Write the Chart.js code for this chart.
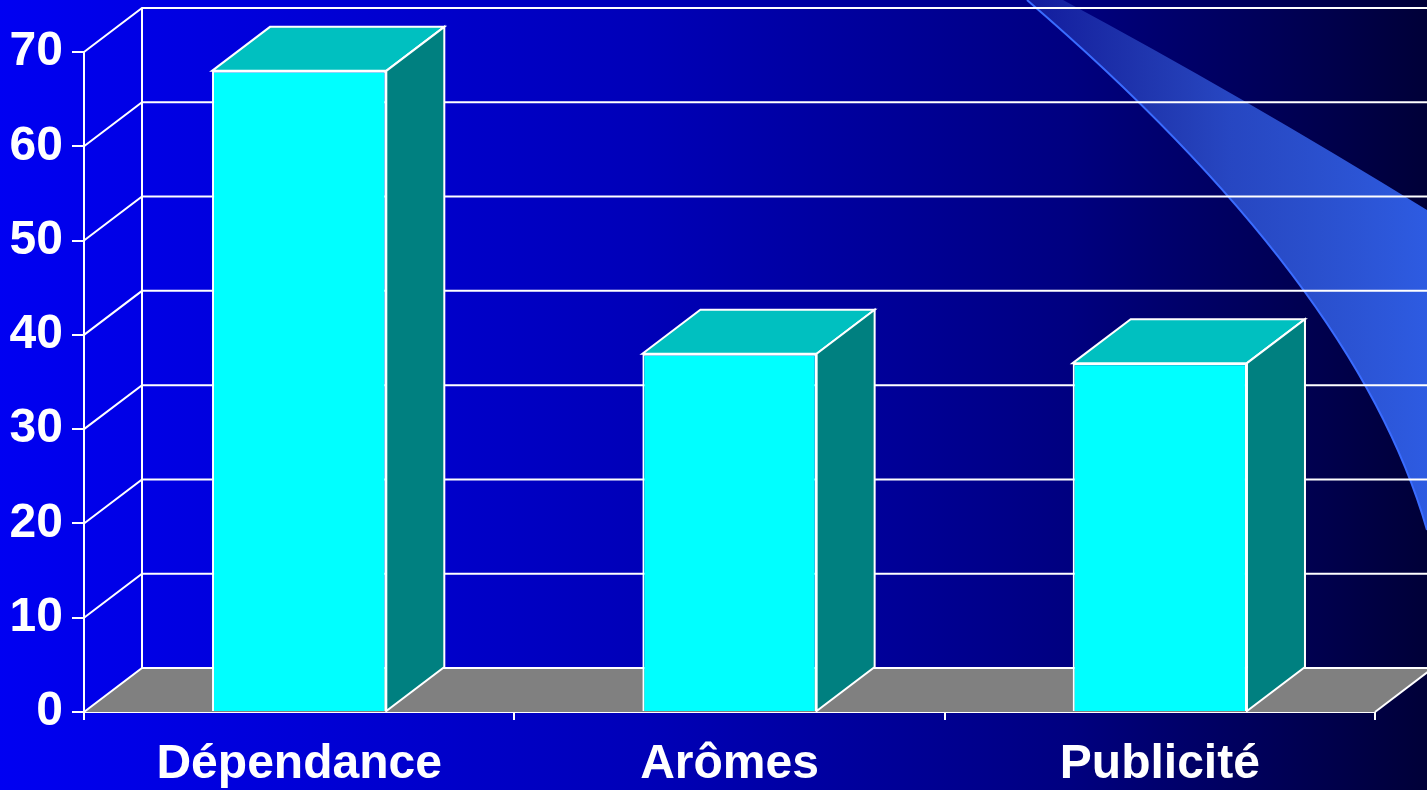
<!DOCTYPE html>
<html lang="fr">
<head>
<meta charset="utf-8">
<title>Graphique</title>
<script src="https://cdn.jsdelivr.net/npm/chart.js@4/dist/chart.umd.min.js"></script>
<style>
  html, body { margin: 0; padding: 0; background: #000080; }
  #wrap { width: 1427px; height: 790px; position: relative; }
</style>
</head>
<body>
<div id="wrap"><canvas id="barChart"></canvas></div>
<script>
// données
const categories = ['Dépendance', 'Arômes', 'Publicité'];
const values = [68, 38, 37];
const yMin = 0;
const yMax = 70;
const yStep = 10;

// couleurs
const frontColor = '#00ffff';
const topColor = '#00c0c0';
const sideColor = '#008080';
const floorColor = '#808080';
const lineColor = '#ffffff';
const labelFont = { family: "'Liberation Sans', Arial, sans-serif", size: 48, weight: 'bold' };

// profondeur de la perspective
const DX = 58;
const DY = 44;

// fond dégradé + la "vague" décorative en haut à droite
const backgroundPlugin = {
    id: 'background',
    beforeDraw(chart) {
        const { ctx, width, height } = chart;
        ctx.save();
        const g = ctx.createLinearGradient(0, 0, width, 0);
        g.addColorStop(0, '#0000f2');
        g.addColorStop(0.45, '#0000b8');
        g.addColorStop(0.75, '#000080');
        g.addColorStop(1, '#000038');
        ctx.fillStyle = g;
        ctx.fillRect(0, 0, width, height);

        // vague
        const sg = ctx.createLinearGradient(1030, 0, width, 0);
        sg.addColorStop(0, 'rgba(70, 110, 230, 0.25)');
        sg.addColorStop(0.5, 'rgba(55, 100, 235, 0.7)');
        sg.addColorStop(1, 'rgba(48, 96, 235, 0.95)');
        ctx.beginPath();
        ctx.moveTo(1027, 0);
        ctx.lineTo(1063, 0);
        ctx.quadraticCurveTo(1240, 95, width, 210);
        ctx.lineTo(width, 530);
        ctx.bezierCurveTo(1367, 320, 1177, 129, 1027, 0);
        ctx.closePath();
        ctx.fillStyle = sg;
        ctx.fill();
        ctx.beginPath();
        ctx.moveTo(1027, 0);
        ctx.bezierCurveTo(1177, 129, 1367, 320, width, 530);
        ctx.strokeStyle = '#3a6cff';
        ctx.lineWidth = 2;
        ctx.stroke();
        ctx.restore();
    }
};

// murs, sol et grille "3D"
const wallsPlugin = {
    id: 'walls',
    beforeDatasetsDraw(chart) {
        const { ctx, chartArea, width } = chart;
        const y = chart.scales.y;
        const left = chartArea.left;
        const right = chartArea.right;
        const y0 = y.getPixelForValue(yMin);
        ctx.save();
        ctx.lineWidth = 2;
        ctx.strokeStyle = lineColor;

        // sol
        ctx.beginPath();
        ctx.moveTo(left, y0);
        ctx.lineTo(left + DX, y0 - DY);
        ctx.lineTo(right + DX, y0 - DY);
        ctx.lineTo(right, y0);
        ctx.closePath();
        ctx.fillStyle = floorColor;
        ctx.fill();
        ctx.beginPath();
        ctx.moveTo(right, y0);
        ctx.lineTo(right + DX, y0 - DY);
        ctx.stroke();

        // grille du mur du fond + diagonales du mur gauche
        for (let v = yMin; v <= yMax; v += yStep) {
            const py = y.getPixelForValue(v);
            ctx.beginPath();
            ctx.moveTo(left, py);
            ctx.lineTo(left + DX, py - DY);
            ctx.lineTo(width, py - DY);
            ctx.stroke();
        }
        ctx.beginPath();
        ctx.moveTo(left + DX, y.getPixelForValue(yMax) - DY);
        ctx.lineTo(left + DX, y0 - DY);
        ctx.stroke();
        ctx.restore();
    },
    afterDatasetsDraw(chart) {
        const { ctx } = chart;
        const meta = chart.getDatasetMeta(0);
        ctx.save();
        ctx.lineWidth = 2;
        ctx.lineJoin = 'miter';
        ctx.strokeStyle = lineColor;
        meta.data.forEach((bar) => {
            const half = bar.width / 2;
            const l = bar.x - half;
            const r = bar.x + half;
            const t = bar.y;
            const b = bar.base;
            // dessus
            ctx.beginPath();
            ctx.moveTo(l, t);
            ctx.lineTo(l + DX, t - DY);
            ctx.lineTo(r + DX, t - DY);
            ctx.lineTo(r, t);
            ctx.closePath();
            ctx.fillStyle = topColor;
            ctx.fill();
            ctx.stroke();
            // côté
            ctx.beginPath();
            ctx.moveTo(r, t);
            ctx.lineTo(r + DX, t - DY);
            ctx.lineTo(r + DX, b - DY);
            ctx.lineTo(r, b);
            ctx.closePath();
            ctx.fillStyle = sideColor;
            ctx.fill();
            ctx.stroke();
        });
        ctx.restore();
    }
};

const ctx = document.getElementById('barChart').getContext('2d');
new Chart(ctx, {
    type: 'bar',
    data: {
        labels: categories,
        datasets: [{
            data: values,
            backgroundColor: frontColor,
            borderColor: lineColor,
            borderWidth: 2,
            barPercentage: 0.405,
            categoryPercentage: 1
        }]
    },
    options: {
        responsive: true,
        maintainAspectRatio: false,
        animation: false,
        layout: { padding: { top: 52, right: 52, left: 0, bottom: 0 } },
        plugins: {
            legend: { display: false },
            tooltip: { enabled: false }
        },
        scales: {
            y: {
                min: yMin,
                max: yMax,
                afterFit: (scale) => { scale.width = 84; },
                ticks: { stepSize: yStep, color: lineColor, font: labelFont, padding: 9 },
                grid: { drawOnChartArea: false, color: lineColor, lineWidth: 2, tickLength: 12 },
                border: { color: lineColor, width: 2 }
            },
            x: {
                afterFit: (scale) => { scale.height = 78; },
                ticks: { color: lineColor, font: labelFont, padding: 16, maxRotation: 0 },
                grid: { offset: true, drawOnChartArea: false, color: lineColor, lineWidth: 2, tickLength: 8 },
                border: { color: lineColor, width: 2 }
            }
        }
    },
    plugins: [backgroundPlugin, wallsPlugin]
});
</script>
</body>
</html>
